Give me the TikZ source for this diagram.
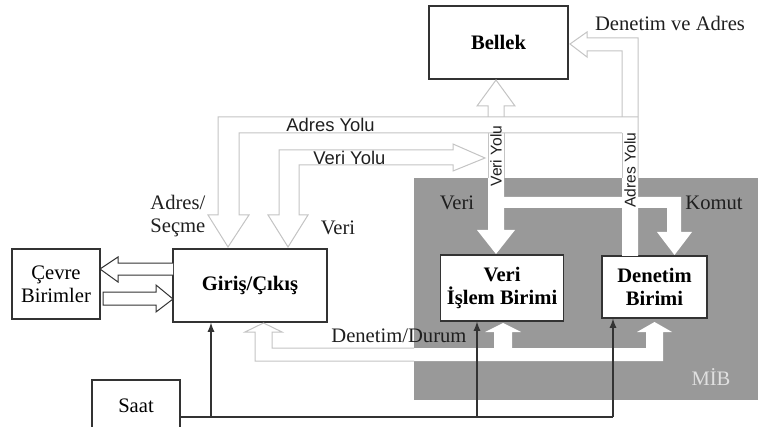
\documentclass[tikz,border=0pt]{standalone}
\usepackage{fontspec}
\setmainfont{Liberation Serif}
\newfontfamily\yolfont{Liberation Sans}
\usepackage{tikz}
\usetikzlibrary{arrows}
\definecolor{busgray}{HTML}{C4C4C4}
\definecolor{mibgray}{HTML}{999999}
\definecolor{boxline}{HTML}{333333}
\tikzstyle{unit} = [rectangle, draw=boxline, line width=0.6pt, fill=white,
           text centered, align=center, font=\fontsize{10.3}{11.3}\selectfont\bfseries]
\tikzstyle{plainunit} = [unit, font=\fontsize{10.3}{11.3}\selectfont]
\tikzstyle{lbl} = [font=\fontsize{10.3}{11.3}\selectfont, text=black!88, inner sep=0pt]
\tikzstyle{yol} = [font=\fontsize{9.2}{10}\yolfont, text=black!88, inner sep=0pt]
\tikzstyle{vyol} = [yol, rotate=90, font=\fontsize{7.8}{9}\yolfont]
\tikzstyle{busfill} = [fill=white]
\tikzstyle{bus} = [draw=busgray, line width=0.5pt]
\tikzstyle{outarrow} = [draw=boxline, line width=0.5pt, fill=white]
\tikzstyle{clock} = [draw=boxline, line width=0.6pt]
\tikzstyle{clockarrow} = [clock, ->, >=latex]

\begin{document}
\begin{tikzpicture}[x=0.5pt, y=-0.5pt]
\clip (0,0) rectangle (765,427);
\node (mib) [rectangle, fill=mibgray, anchor=north west, inner sep=0pt,
   minimum width=172pt, minimum height=111pt] at (414,178) {};
\node (mibtxt) [lbl, text=white!88!black] at (711,377) {MİB};
\node (bellek) [unit, minimum width=69.5pt, minimum height=36.5pt]
   at (498.5,42.5) {Bellek};
\node (giris) [unit, minimum width=77pt, minimum height=36.5pt]
   at (250,285.5) {Giriş/Çıkış};
\node (cevre) [plainunit, minimum width=44pt, minimum height=35pt]
   at (56,284) {Çevre\\Birimler};
\node (saat) [plainunit, minimum width=44pt, minimum height=26pt]
   at (136,406) {Saat};
\node (veriislem) [unit, minimum width=60pt, minimum height=33pt]
   at (502,288) {Veri\\İşlem Birimi};
\node (denetim) [unit, minimum width=52.5pt, minimum height=31pt]
   at (654.5,287) {Denetim\\Birimi};
% bus areas
\fill[busfill] (622,256) -- (622,51) -- (587,51) -- (587,57) -- (570,44) -- (587,32)
   -- (587,38) -- (638,38) -- (638,256) -- cycle;
\fill[busfill] (638,117) -- (218,117) -- (218,215) -- (208,215) -- (228,247) -- (249,215)
   -- (239,215) -- (239,133) -- (638,133) -- cycle;
\fill[busfill] (488,117) -- (488,106) -- (477,106) -- (496,80) -- (515,106) -- (504,106)
   -- (504,230) -- (515,230) -- (496,254) -- (477,230) -- (488,230) -- cycle;
\fill[busfill] (504,197) -- (681,197) -- (681,232) -- (692,232) -- (674.5,255) -- (657,232)
   -- (667,232) -- (667,208) -- (504,208) -- cycle;
\fill[busfill] (255,361) -- (255,332) -- (245,332) -- (263.5,323) -- (282,332) -- (272,332)
   -- (272,348) -- (494,348) -- (494,332) -- (485,332) -- (503,323) -- (521,332)
   -- (512,332) -- (512,348) -- (646,348) -- (646,332) -- (637,332) -- (654.5,322)
   -- (672,332) -- (663,332) -- (663,361) -- cycle;
% bus outlines
\draw[bus] (622,178) -- (622,133);
\draw[bus] (622,117) -- (622,51) -- (587,51) -- (587,57) -- (570,44) -- (587,32)
   -- (587,38) -- (638,38) -- (638,178);
\draw[bus] (638,117) -- (218,117) -- (218,215) -- (208,215) -- (228,247) -- (249,215)
   -- (239,215) -- (239,133) -- (622,133);
\draw[bus] (488,117) -- (488,106) -- (477,106) -- (496,80) -- (515,106) -- (504,106)
   -- (504,117);
\draw[bus] (488,133) -- (488,178);
\draw[bus] (504,133) -- (504,178);
\draw[bus, busfill] (299,215) -- (299,165) -- (453,165) -- (453,171) -- (485,158)
   -- (453,144) -- (453,150) -- (279,150) -- (279,215) -- (268,215) -- (288,247)
   -- (308,215) -- cycle;
\draw[bus] (414,348) -- (272,348) -- (272,332) -- (282,332) -- (263.5,323) -- (245,332)
   -- (255,332) -- (255,361) -- (414,361);
% peripheral arrows
\draw[outarrow] (173,263) -- (118,263) -- (118,257) -- (100,269) -- (118,282)
   -- (118,275) -- (173,275);
\draw[outarrow] (103,292) -- (156,292) -- (156,285) -- (173,299) -- (156,312)
   -- (156,305) -- (103,305) -- cycle;
% clock
\coordinate (t1) at (211,417);
\coordinate (t2) at (477,417);
\coordinate (t3) at (613,417);
\draw[clock] (saat.east |- t3) -- (t3);
\draw[clockarrow] (t1) -- (t1 |- giris.south);
\draw[clockarrow] (t2) -- (t2 |- veriislem.south);
\draw[clockarrow] (t3) -- (t3 |- denetim.south);
% labels
\node (denadr) [lbl] at (670,23) {Denetim ve Adres};
\node (adrsec) [lbl, align=left, anchor=west] at (150,216) {Adres/\\Seçme};
\node (veri1) [lbl] at (338,228) {Veri};
\node (veri2) [lbl] at (457,203) {Veri};
\node (komut) [lbl] at (714,203) {Komut};
\node (dendur) [lbl, anchor=west] at (331,336) {Denetim/Durum};
\node (adryol) [yol, anchor=west] at (286,125) {Adres Yolu};
\node (veryol) [yol, anchor=west] at (313,158) {Veri Yolu};
\node (veryolv) [vyol] at (496,156) {Veri Yolu};
\node (adryolv) [vyol] at (630,170) {Adres Yolu};
\end{tikzpicture}
\end{document}
